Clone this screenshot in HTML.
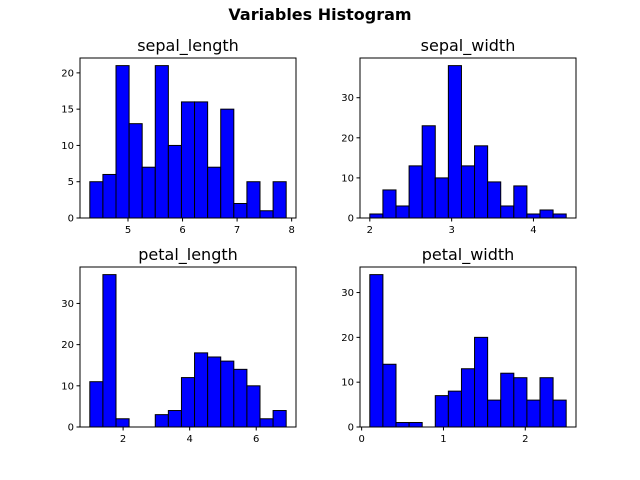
<!DOCTYPE html>
<html><head><meta charset="utf-8"><style>
body{margin:0;background:#fff;}
svg{display:block;font-family:"DejaVu Sans","Liberation Sans",sans-serif;}
</style></head><body>
<svg id="chart" width="640" height="480" viewBox="0 0 640 480">
<rect width="640" height="480" fill="#fff"/>
<text x="320" y="20" text-anchor="middle" font-size="16" font-weight="bold">Variables Histogram</text>
</svg>
<script>
const titles = ["sepal_length","sepal_width","petal_length","petal_width"];
const binMins = [4.3, 2.0, 1.0, 0.1];
const binMaxs = [7.9, 4.4, 6.9, 2.5];
const countsSepalLength = [5,6,21,13,7,21,10,16,16,7,15,2,5,1,5];
const countsSepalWidth = [1,7,3,13,23,10,38,13,18,9,3,8,1,2,1];
const countsPetalLength = [11,37,2,0,0,3,4,12,18,17,16,14,10,2,4];
const countsPetalWidth = [34,14,1,1,0,7,8,13,20,6,12,11,6,11,6];
const xTicks = [[5,6,7,8],[2,3,4],[2,4,6],[0,1,2]];
const yTicks = [[0,5,10,15,20],[0,10,20,30],[0,10,20,30],[0,10,20,30]];
const allCounts = [countsSepalLength,countsSepalWidth,countsPetalLength,countsPetalWidth];
const NS = "http://www.w3.org/2000/svg";
const svg = document.getElementById("chart");
const boxes = [[80,58],[360,58],[80,267],[360,267]];
const W = 216, H = 160;
function mk(tag, attrs, parent){const e=document.createElementNS(NS,tag);for(const k in attrs)e.setAttribute(k,attrs[k]);(parent||svg).appendChild(e);return e;}
allCounts.forEach((counts,i)=>{
  const [L,T] = boxes[i];
  const g = mk("g",{});
  
  
  const lo=binMins[i], hi=binMaxs[i], pad=(hi-lo)*0.05;
  const x0=lo-pad, x1=hi+pad;
  const ymax=Math.max(...counts)*1.05;
  const sx=v=>L+(v-x0)/(x1-x0)*W;
  const sy=v=>T+H-v/ymax*H;
  const bw=(hi-lo)/counts.length;
  counts.forEach((c,j)=>{
    if(c<=0) return;
    const a=sx(lo+j*bw), b=sx(lo+(j+1)*bw);
    const r=mk("rect",{x:a,y:sy(c),width:b-a,height:sy(0)-sy(c),fill:"#0000ff",stroke:"#000","stroke-width":1},g);
    
    
  });
  mk("rect",{x:L,y:T,width:W,height:H,fill:"none",stroke:"#000","stroke-width":1},g);
  const t=mk("text",{x:L+W/2,y:T-7,"text-anchor":"middle","font-size":16},g);
  t.textContent=titles[i];
  
  
  xTicks[i].forEach(v=>{
    const x=sx(v);
    mk("line",{x1:x,x2:x,y1:T+H,y2:T+H+3.5,stroke:"#000"},g);
    const tx=mk("text",{x:x,y:T+H+15,"text-anchor":"middle","font-size":10},g);
    tx.textContent=v;
    
    
  });
  yTicks[i].forEach(v=>{
    const y=sy(v);
    mk("line",{x1:L-3.5,x2:L,y1:y,y2:y,stroke:"#000"},g);
    const ty=mk("text",{x:L-6,y:y+3.5,"text-anchor":"end","font-size":10},g);
    ty.textContent=v;
    
    
  });
});
</script>
</body></html>
